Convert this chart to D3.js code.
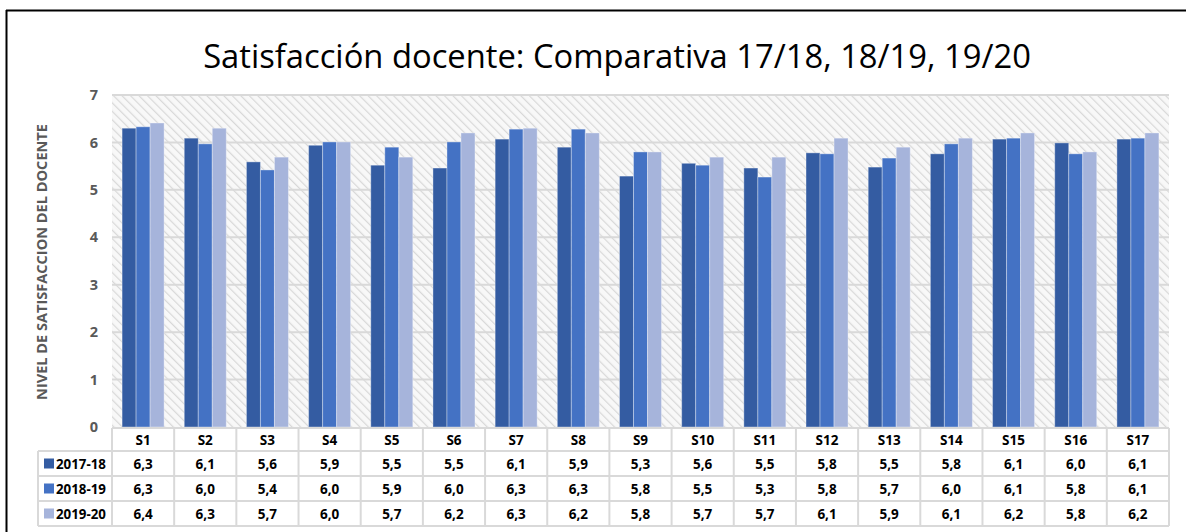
<!DOCTYPE html>
<html><head><meta charset="utf-8">
<script src="https://cdn.jsdelivr.net/npm/d3@7"></script>
<style>body{margin:0;background:#fff}svg{display:block}</style>
</head><body>
<svg id="c" width="1186" height="532"></svg>
<script>
const categories = ["S1","S2","S3","S4","S5","S6","S7","S8","S9","S10","S11","S12","S13","S14","S15","S16","S17"];
const seriesNames = ["2017-18","2018-19","2019-20"];
const s2017 = [6.30,6.09,5.59,5.94,5.52,5.46,6.07,5.90,5.29,5.56,5.46,5.78,5.48,5.76,6.07,5.99,6.07];
const s2018 = [6.33,5.97,5.42,6.01,5.90,6.01,6.28,6.28,5.80,5.52,5.27,5.76,5.67,5.97,6.09,5.76,6.09];
const s2019 = [6.41,6.30,5.69,6.01,5.69,6.20,6.30,6.20,5.80,5.69,5.69,6.09,5.90,6.09,6.20,5.80,6.20];
const yTicks = [0,1,2,3,4,5,6,7];
const colors = ["#345ca2","#4472c4","#a6b4db"];
const title = "Satisfacción docente: Comparativa 17/18, 18/19, 19/20";
const yTitle = "NIVEL DE SATISFACCION DEL DOCENTE";

const series = [s2017, s2018, s2019];
const svg = d3.select("#c");
const L = 112, R = 1169, T = 95, B = 427;

// outer frame (top & left)
svg.append("line").attr("x1",6).attr("x2",1186).attr("y1",10.5).attr("y2",10.5).attr("stroke","#000").attr("stroke-width",2);
svg.append("line").attr("x1",6.5).attr("x2",6.5).attr("y1",10).attr("y2",532).attr("stroke","#000").attr("stroke-width",2);

// hatch pattern
const defs = svg.append("defs");
const pat = defs.append("pattern").attr("id","hatch").attr("patternUnits","userSpaceOnUse")
  .attr("width",6).attr("height",6).attr("patternTransform","rotate(-45)");
pat.append("rect").attr("width",6).attr("height",6).attr("fill","#f8f8f8");
pat.append("line").attr("x1",0).attr("x2",0).attr("y1",0).attr("y2",6).attr("stroke","#d8d8d8").attr("stroke-width",2.4);

const x = d3.scaleBand().domain(categories).range([L,R]).paddingInner(0).paddingOuter(0);
const xi = d3.scaleBand().domain(seriesNames).range([0,x.bandwidth()]).paddingInner(0).paddingOuter(0.72);
const y = d3.scaleLinear().domain([0,7]).range([B,T]);

svg.append("rect").attr("x",L).attr("y",T).attr("width",R-L).attr("height",B-T).attr("fill","url(#hatch)");

// gridlines
svg.append("g").selectAll("line").data(yTicks.filter(d=>d>0)).join("line")
  .attr("x1",L).attr("x2",R).attr("y1",d=>y(d)).attr("y2",d=>y(d))
  .attr("stroke","#d9d9d9").attr("stroke-width",2);

// y axis labels
const yAxis = d3.axisLeft(y).tickValues(yTicks).tickSize(0).tickPadding(0).tickFormat(d3.format("d"));
const ga = svg.append("g").attr("transform",`translate(${L-14},0)`).call(yAxis);
ga.select(".domain").remove();
ga.selectAll("text").attr("font-family","'Open Sans',sans-serif").attr("font-weight","bold")
  .attr("font-size",14.5).attr("fill","#595959");

// y title
const yt = svg.append("text").attr("transform",`translate(47,262) rotate(-90)`).attr("text-anchor","middle")
  .attr("font-family","'Open Sans',sans-serif").attr("font-weight","bold").attr("font-size",12)
  .attr("fill","#595959").text(yTitle);
yt.attr("font-size",12*276/yt.node().getComputedTextLength());

// bars
series.forEach((vals,si)=>{
  svg.append("g").selectAll("rect").data(vals).join("rect")
    .attr("x",(d,i)=>x(categories[i])+xi(seriesNames[si]))
    .attr("y",d=>y(d)).attr("width",xi.bandwidth()).attr("height",d=>B-y(d))
    .attr("fill",colors[si]).attr("stroke","#ffffff").attr("stroke-opacity",0.35).attr("stroke-width",1);
});

// title
const tt = svg.append("text").attr("x",617).attr("y",68).attr("text-anchor","middle")
  .attr("font-family","'Open Sans',sans-serif").attr("font-size",30).attr("fill","#000").text(title);
const tw = tt.node().getComputedTextLength();
tt.attr("font-size",30*828/tw);

// data table
const rowTops = [428,451,476,501,526];
const legL = 38;
const grid = svg.append("g").attr("stroke","#d9d9d9").attr("stroke-width",2);
rowTops.forEach((yy,i)=>{
  grid.append("line").attr("x1", i===0 ? L : legL).attr("x2",R).attr("y1",yy).attr("y2",yy);
});
[L, ...categories.map(c=>x(c)+x.bandwidth())].forEach(xx=>{
  grid.append("line").attr("x1",xx).attr("x2",xx).attr("y1",rowTops[0]).attr("y2",rowTops[4]);
});
grid.append("line").attr("x1",legL).attr("x2",legL).attr("y1",rowTops[1]).attr("y2",rowTops[4]);

const tfont = "'Open Sans',sans-serif";
const fs = 13.5;
svg.append("g").selectAll("text").data(categories).join("text")
  .attr("x",c=>x(c)+x.bandwidth()/2).attr("y",(rowTops[0]+rowTops[1])/2+5)
  .attr("text-anchor","middle").attr("font-family",tfont).attr("font-weight","bold")
  .attr("font-size",fs).attr("fill","#000").text(c=>c);

const fmt = v => d3.format(".1f")(v).replace(".",",");
series.forEach((vals,si)=>{
  const cy = (rowTops[si+1]+rowTops[si+2])/2;
  svg.append("g").selectAll("text").data(vals).join("text")
    .attr("x",(d,i)=>x(categories[i])+x.bandwidth()/2).attr("y",cy+5)
    .attr("text-anchor","middle").attr("font-family",tfont).attr("font-weight","bold")
    .attr("font-size",fs).attr("fill","#000").text(d=>fmt(d));
  svg.append("rect").attr("x",44).attr("y",cy-5).attr("width",10).attr("height",10).attr("fill",colors[si]);
  const lt = svg.append("text").attr("x",56).attr("y",cy+5).attr("font-family",tfont).attr("font-weight","bold")
    .attr("font-size",fs).attr("fill","#000").text(seriesNames[si]);
  lt.attr("font-size", fs*50/lt.node().getComputedTextLength());
});
</script>
</body></html>
